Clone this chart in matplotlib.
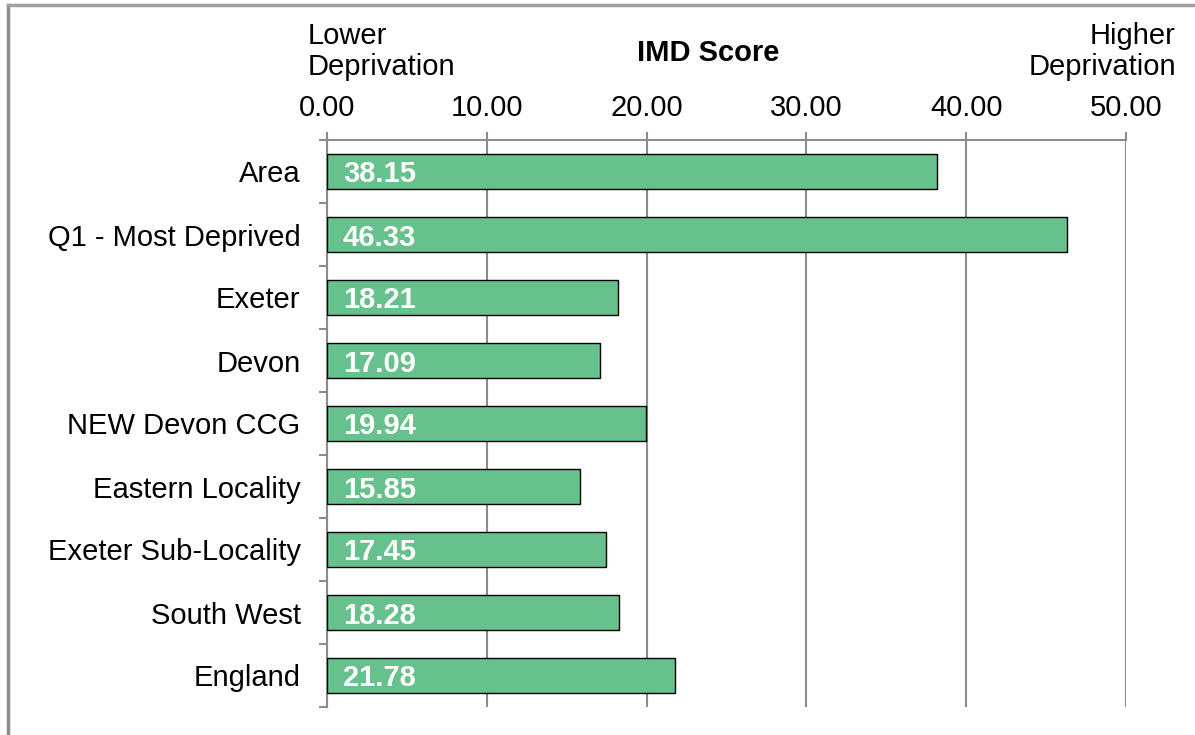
import matplotlib.pyplot as plt
from matplotlib.lines import Line2D
import numpy as np

plt.rcParams['font.family'] = ['Liberation Sans', 'DejaVu Sans']

categories = ["Area", "Q1 - Most Deprived", "Exeter", "Devon", "NEW Devon CCG",
              "Eastern Locality", "Exeter Sub-Locality", "South West", "England"]
scores = [38.15, 46.33, 18.21, 17.09, 19.94, 15.85, 17.45, 18.28, 21.78]
x_ticks = [0, 10, 20, 30, 40, 50]

grey = "#8c8c8c"
fig = plt.figure(figsize=(11.95, 7.35), dpi=100)
ax = fig.add_axes([327 / 1195, 28 / 735, 799 / 1195, 567 / 735])

y = np.arange(len(categories))
ax.barh(y, scores, height=0.57, color="#66c18c", edgecolor="black", linewidth=1, zorder=3)
for yi, v in zip(y, scores):
    ax.text(1.0, yi, f"{v:.2f}", color="white", fontsize=21, fontweight="bold",
            va="center_baseline", ha="left", zorder=4)

ax.set_xlim(0, 50)
ax.set_ylim(len(categories) - 0.5, -0.5)
ax.xaxis.tick_top()
ax.set_xticks(x_ticks)
ax.set_xticklabels([f"{t:.2f}" for t in x_ticks], fontsize=21)
ax.tick_params(axis="x", length=6, color=grey, width=1.5, pad=7)
ax.grid(axis="x", color=grey, linewidth=1.5, zorder=0)

ax.set_yticks(y)
ax.set_yticklabels(categories, fontsize=21)
ax.set_yticks(np.arange(len(categories) + 1) - 0.5, minor=True)
ax.tick_params(axis="y", which="major", length=0, pad=19)
ax.tick_params(axis="y", which="minor", length=6, color=grey, width=1.5)

for side in ["right", "bottom"]:
    ax.spines[side].set_visible(False)
for side in ["top", "left"]:
    ax.spines[side].set_color(grey)
    ax.spines[side].set_linewidth(1.5)

fig.text(308 / 1195, 1 - 22 / 735, "Lower\nDeprivation", fontsize=21, ha="left", va="top",
         linespacing=1.12)
fig.text(708 / 1195, 1 - 53 / 735, "IMD Score", fontsize=21, fontweight="bold",
         ha="center", va="center")
fig.text(1176 / 1195, 1 - 22 / 735, "Higher\nDeprivation", fontsize=21, ha="right", va="top",
         linespacing=1.12)

# outer chart border
fig.add_artist(Line2D([7.5 / 1195, 7.5 / 1195], [0, 1 - 5 / 735], color=grey, linewidth=2.5,
                      transform=fig.transFigure))
fig.add_artist(Line2D([7.5 / 1195, 1], [1 - 5 / 735, 1 - 5 / 735], color="#a0a0a0", linewidth=2.5,
                      transform=fig.transFigure))

fig.savefig("out.png", dpi=100)
